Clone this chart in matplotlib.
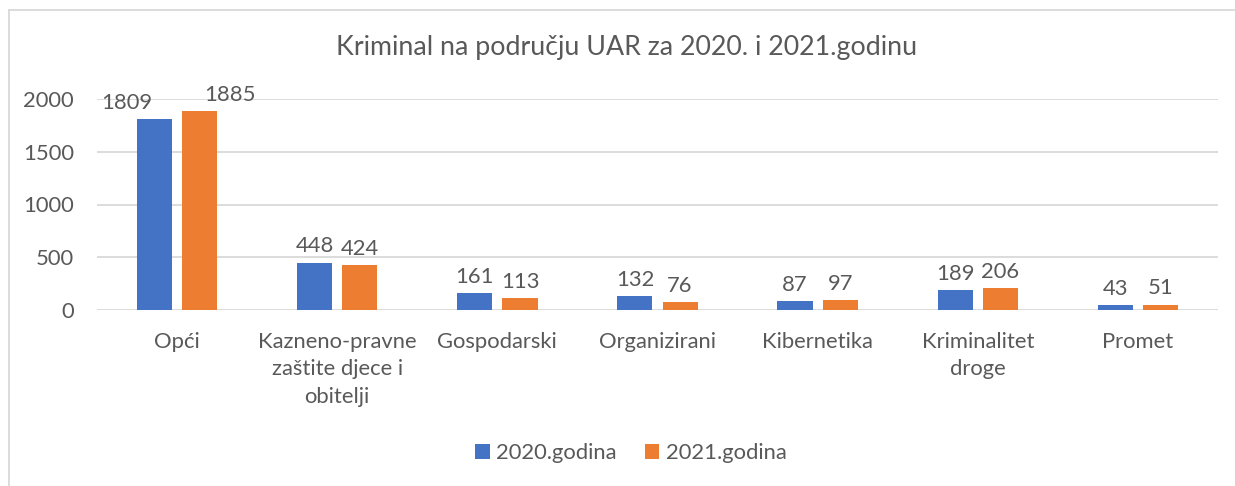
import matplotlib
matplotlib.use("Agg")
import matplotlib.pyplot as plt
from matplotlib.lines import Line2D
import numpy as np

categories = ["Opći", "Kazneno-pravne\nzaštite djece i\nobitelji", "Gospodarski",
              "Organizirani", "Kibernetika", "Kriminalitet\ndroge", "Promet"]
series_names = ["2020.godina", "2021.godina"]
values_2020 = [1809, 448, 161, 132, 87, 189, 43]
values_2021 = [1885, 424, 113, 76, 97, 206, 51]
yticks = [0, 500, 1000, 1500, 2000]

BLUE = "#4472C4"
ORANGE = "#ED7D31"
TXT = "#595959"
GRID = "#D9D9D9"

plt.rcParams['font.family'] = ['Lato', 'DejaVu Sans']
FS = 15.8

W, H = 1235, 486
fig = plt.figure(figsize=(W/100, H/100), dpi=100)
ax = fig.add_axes([97/W, 1-310/H, (1218-97)/W, (310-99)/H])

x = np.arange(len(categories))
w = 0.22
g = 0.0625
off = (w + g) / 2
b1 = ax.bar(x - off, values_2020, w, color=BLUE, label=series_names[0], zorder=3)
b2 = ax.bar(x + off, values_2021, w, color=ORANGE, label=series_names[1], zorder=3)

# horizontal nudges (points) for labels that would otherwise collide
nudge = {(0, 0): -20, (1, 0): 22}
for si, bars in enumerate((b1, b2)):
    for ci, r in enumerate(bars):
        dx = nudge.get((si, ci), 0)
        ax.annotate(f"{int(r.get_height())}", (r.get_x() + r.get_width()/2, r.get_height()),
                    xytext=(dx, 4.5), textcoords="offset points", ha="center", va="bottom",
                    fontsize=FS, color=TXT, zorder=4)

ax.set_xlim(-0.5, len(categories) - 0.5)
ax.set_ylim(0, 2000)
ax.set_yticks(yticks)
ax.set_yticklabels([str(v) for v in yticks])
ax.set_xticks(x)
ax.set_xticklabels(categories, linespacing=1.45)
ax.tick_params(axis='x', length=0, pad=16, labelsize=FS, labelcolor=TXT)
ax.tick_params(axis='y', length=0, pad=16.5, labelsize=FS, labelcolor=TXT)
ax.yaxis.grid(True, color=GRID, linewidth=1.3, zorder=0)
ax.set_axisbelow(True)
for s in ax.spines.values():
    s.set_visible(False)

fig.text(627/W, 1-48/H, "Kriminal na području UAR za 2020. i 2021.godinu",
         ha="center", va="center", fontsize=19.3, color=TXT)

fig.legend(handles=[b1, b2], labels=series_names, loc="center",
           bbox_to_anchor=(631/W, 1-453/H), ncol=2, frameon=False,
           fontsize=FS, labelcolor=TXT, handlelength=0.65, handleheight=0.65,
           handletextpad=0.3, columnspacing=1.3)

fig.add_artist(Line2D([9/W, 1], [1-10/H, 1-10/H], transform=fig.transFigure,
                      color=GRID, linewidth=1.3))
fig.add_artist(Line2D([9/W, 9/W], [1-10/H, 0], transform=fig.transFigure,
                      color=GRID, linewidth=1.3))

fig.savefig("out.png", dpi=100, facecolor="white")
